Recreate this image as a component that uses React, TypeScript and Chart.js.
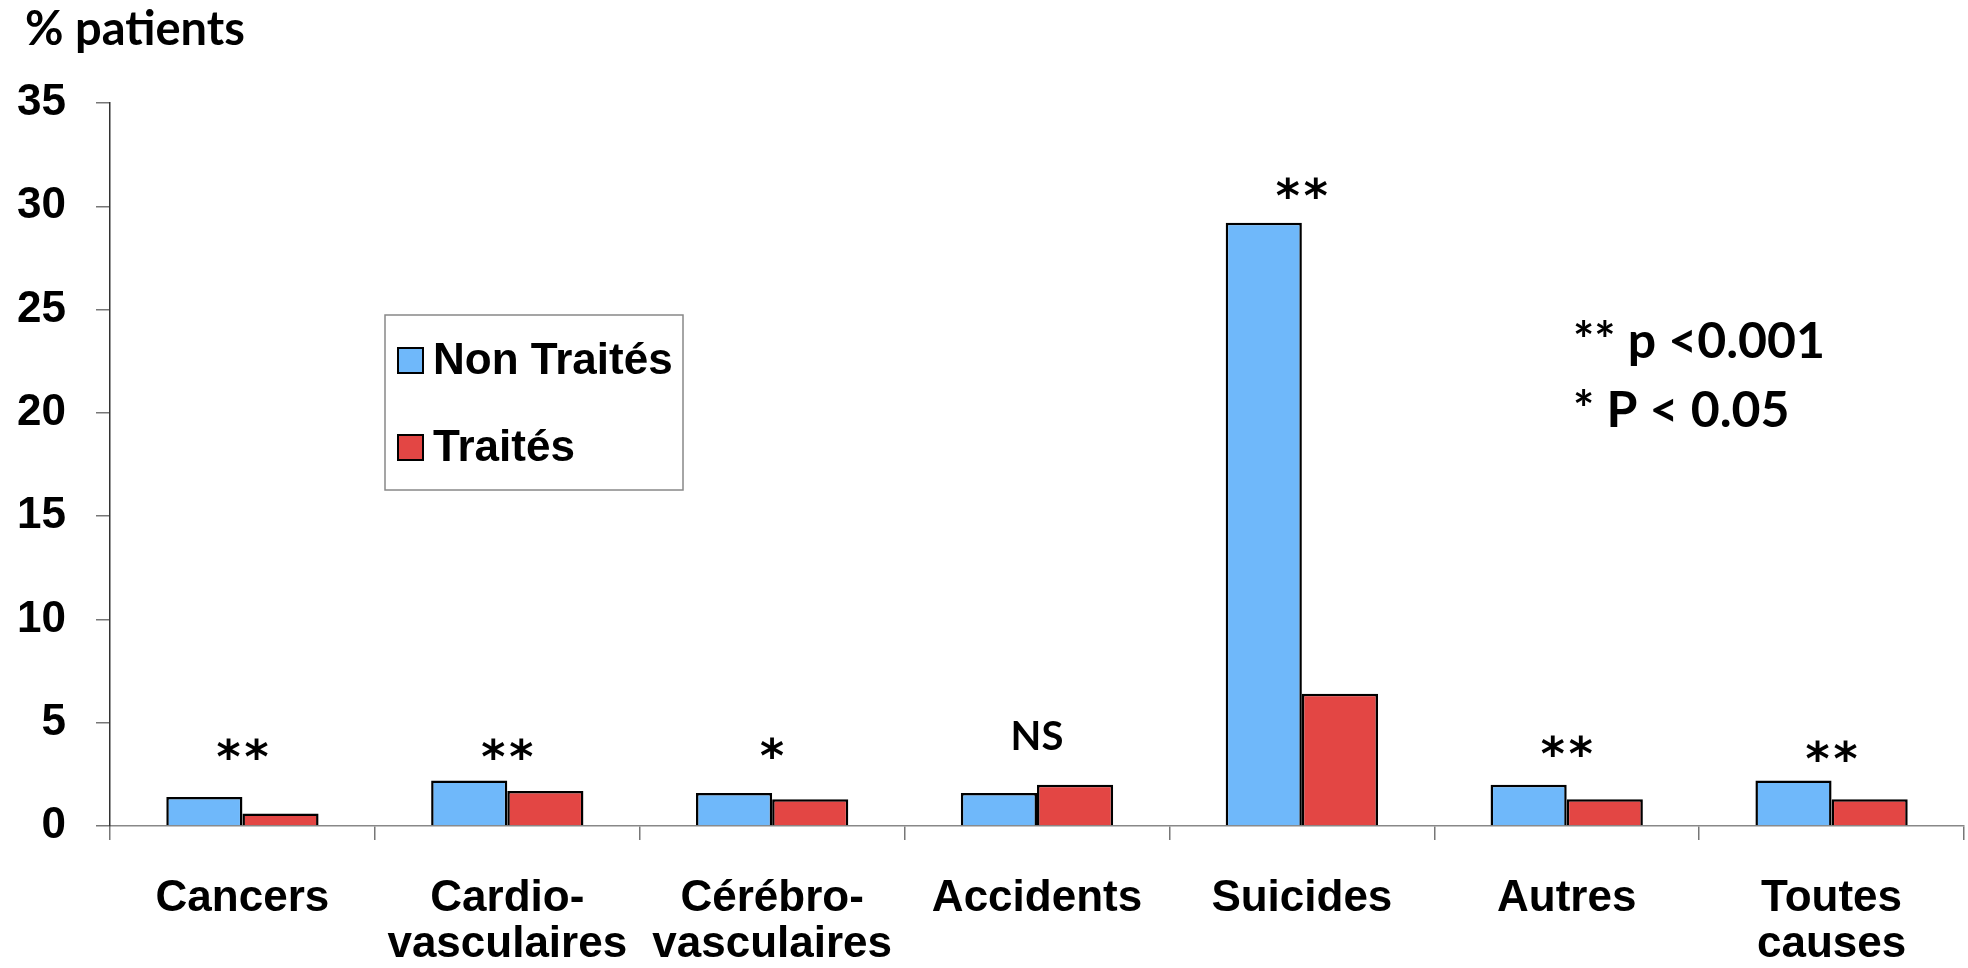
import React, { useEffect, useRef } from "react";
import { Chart, registerables } from "chart.js";

Chart.register(...registerables);

const categories: string[][] = [
  ["Cancers"],
  ["Cardio-", "vasculaires"],
  ["Cérébro-", "vasculaires"],
  ["Accidents"],
  ["Suicides"],
  ["Autres"],
  ["Toutes", "causes"],
];
const seriesLabels = ["Non Traités", "Traités"];
const nonTraites = [1.4, 2.2, 1.6, 1.6, 29.2, 2.0, 2.2];
const traites = [0.6, 1.7, 1.3, 2.0, 6.4, 1.3, 1.3];
const significance = ["**", "**", "*", "NS", "**", "**", "**"];
const significanceLevels = [3.85, 3.85, 3.9, 4.4, 31.0, 4.0, 3.75];
const yMin = 0;
const yMax = 35;
const yStep = 5;
const yTitle = "% patients";
const pNotes = ["** p <0.001", "* P < 0.05"];

const BLUE = "#6FB8FA";
const RED = "#E34644";
const ARIAL = "'Liberation Sans', Arial, sans-serif";
const CALIBRI = "Lato, 'Open Sans', sans-serif";
const STAR = "'DejaVu Sans', sans-serif";

const overlayPlugin = {
  id: "overlay",
  afterDraw(chart: any) {
    const ctx = chart.ctx as CanvasRenderingContext2D;
    const xs = chart.scales.x;
    const ys = chart.scales.y;
    ctx.save();

    // y title
    ctx.fillStyle = "#000";
    ctx.font = `bold 47px ${CALIBRI}`;
    ctx.textAlign = "left";
    ctx.textBaseline = "middle";
    ctx.fillText(yTitle, 25, 30);

    // legend box
    const lx = 385, ly = 315, lw = 298, lh = 175;
    ctx.strokeStyle = "#888";
    ctx.lineWidth = 1.5;
    ctx.strokeRect(lx, ly, lw, lh);
    const colors = [BLUE, RED];
    const rowY = [360, 447];
    seriesLabels.forEach((lab, i) => {
      ctx.fillStyle = colors[i];
      ctx.fillRect(398, rowY[i] - 12, 25, 25);
      ctx.strokeStyle = "#000";
      ctx.lineWidth = 2;
      ctx.strokeRect(398, rowY[i] - 12, 25, 25);
      ctx.fillStyle = "#000";
      ctx.font = `bold 44px ${ARIAL}`;
      ctx.textAlign = "left";
      ctx.textBaseline = "middle";
      ctx.fillText(lab, 433, rowY[i] + 2);
    });

    // significance marks
    significance.forEach((mark, i) => {
      const cx = xs.getPixelForValue(i);
      const cy = ys.getPixelForValue(significanceLevels[i]);
      ctx.fillStyle = "#000";
      if (mark.startsWith("*")) {
        const size = 46;
        ctx.font = `bold ${size}px ${STAR}`;
        ctx.textAlign = "center";
        ctx.textBaseline = "alphabetic";
        const gap = 28;
        const n = mark.length;
        for (let k = 0; k < n; k++) {
          const px = cx + (k - (n - 1) / 2) * gap;
          ctx.fillText("*", px, cy + 0.58 * size);
        }
      } else {
        const size = 40;
        ctx.font = `bold ${size}px ${CALIBRI}`;
        ctx.textAlign = "center";
        ctx.textBaseline = "alphabetic";
        ctx.fillText(mark, cx, cy + 0.36 * size);
      }
    });

    // p-value notes
    ctx.font = `bold 50px ${CALIBRI}`;
    ctx.textAlign = "left";
    ctx.textBaseline = "middle";
    ctx.fillStyle = "#000";
    ctx.fillText(pNotes[0], 1573, 342);
    ctx.fillText(pNotes[1], 1573, 411);

    ctx.restore();
  },
};

export default function App() {
  const ref = useRef<HTMLCanvasElement | null>(null);
  useEffect(() => {
    if (!ref.current) return;
    const chart = new Chart(ref.current, {
      type: "bar",
      data: {
        labels: categories,
        datasets: [
          {
            label: seriesLabels[0],
            data: nonTraites,
            backgroundColor: BLUE,
            borderColor: "#000",
            borderWidth: 2.5,
            categoryPercentage: 0.575,
            barPercentage: 1,
          },
          {
            label: seriesLabels[1],
            data: traites,
            backgroundColor: RED,
            borderColor: "#000",
            borderWidth: 2.5,
            categoryPercentage: 0.575,
            barPercentage: 1,
          },
        ],
      },
      options: {
        responsive: false,
        animation: false,
        layout: { padding: { top: 103, right: 4, left: 0, bottom: 0 } },
        plugins: {
          legend: { display: false },
          tooltip: { enabled: false },
        },
        scales: {
          x: {
            afterFit: (s: any) => {
              s.height = 142;
            },
            grid: {
              display: true,
              drawOnChartArea: false,
              drawTicks: true,
              tickLength: 14,
              color: "#777",
              lineWidth: 1.5,
              offset: true,
            },
            border: { display: true, color: "#888", width: 1.5 },
            ticks: {
              color: "#000",
              padding: 36,
              maxRotation: 0,
              autoSkip: false,
              font: { family: ARIAL, size: 44, weight: "bold", lineHeight: 46 / 44 },
            },
          },
          y: {
            min: yMin,
            max: yMax,
            afterFit: (s: any) => {
              s.width = 110;
            },
            grid: {
              display: true,
              drawOnChartArea: false,
              drawTicks: true,
              tickLength: 14,
              color: "#777",
              lineWidth: 1.5,
            },
            border: { display: true, color: "#333", width: 1.5 },
            ticks: {
              stepSize: yStep,
              color: "#000",
              padding: 30,
              font: { family: ARIAL, size: 44, weight: "bold" },
            },
          },
        },
      },
      plugins: [overlayPlugin],
    });
    return () => chart.destroy();
  }, []);
  return (
    <div style={{ position: "absolute", left: 0, top: 0, width: 1968, height: 968, background: "#fff" }}>
      <canvas ref={ref} width={1968} height={968} style={{ display: "block" }} />
    </div>
  );
}
